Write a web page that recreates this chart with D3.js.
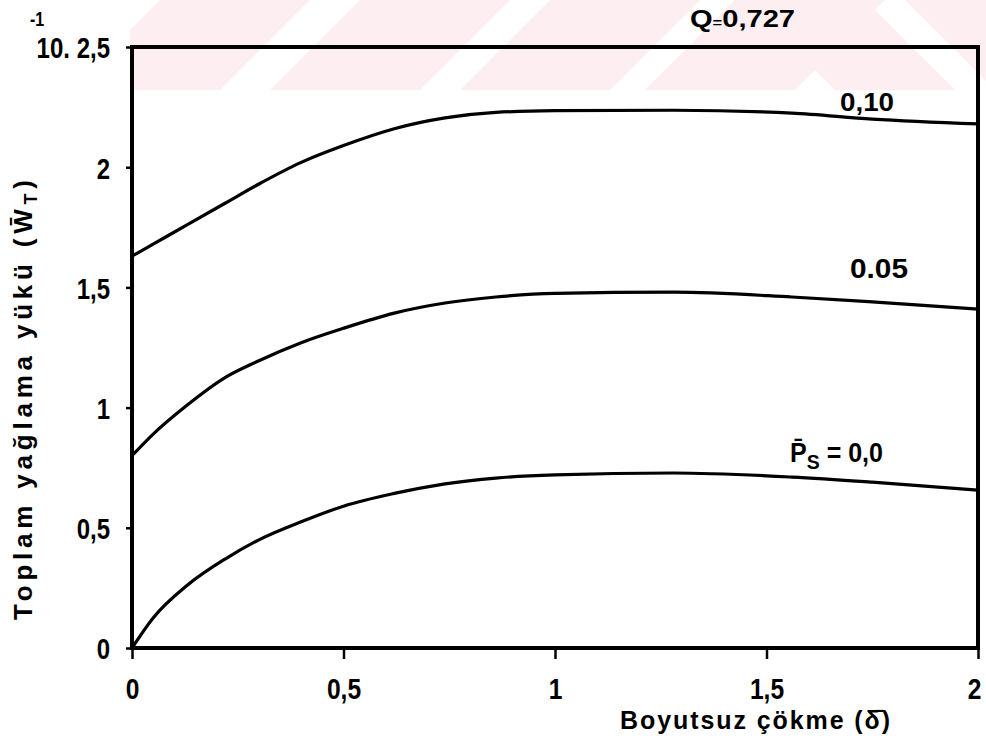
<!DOCTYPE html>
<html>
<head>
<meta charset="utf-8">
<script src="https://cdn.jsdelivr.net/npm/d3@7"></script>
<style>
  html, body { margin: 0; padding: 0; background: #fff; }
  svg { display: block; }
  text { font-family: "Liberation Sans", Arial, sans-serif; font-weight: bold; fill: #000; }
</style>
</head>
<body>
<svg id="chart" width="986" height="740"></svg>
<script>
// ---- data ----
const deltaValues = [0, 0.05, 0.13, 0.22, 0.30, 0.40, 0.50, 0.62, 0.74, 0.86, 1.0, 1.28, 1.56, 1.75, 2.0];
const seriesPs000 = [0, 0.125, 0.26, 0.37, 0.45, 0.525, 0.59, 0.643, 0.683, 0.707, 0.72, 0.728, 0.711, 0.69, 0.657];
const seriesPs005 = [0.80, 0.89, 1.01, 1.125, 1.195, 1.27, 1.33, 1.393, 1.435, 1.46, 1.475, 1.48, 1.46, 1.44, 1.41];
const seriesPs010 = [1.63, 1.68, 1.76, 1.85, 1.93, 2.02, 2.09, 2.16, 2.205, 2.228, 2.235, 2.237, 2.225, 2.20, 2.18];
const seriesNames = ["0,0", "0.05", "0,10"];
const xTickValues = [0, 0.5, 1, 1.5, 2];
const xTickLabels = ["0", "0,5", "1", "1,5", "2"];
const yTickValues = [0, 0.5, 1, 1.5, 2, 2.5];
const yTickLabels = ["0", "0,5", "1", "1,5", "2", "10. 2,5"];
const xTitle = "Boyutsuz çökme  (δ̄)";
const yTitleMain = "Toplam yağlama  yükü (W̄";
const yTitleSub = "T";
const qLabel = "0,727";

// ---- layout ----
const svg = d3.select("#chart");
const x = d3.scaleLinear().domain([0, 2]).range([132, 978]);
const y = d3.scaleLinear().domain([0, 2.5]).range([648, 47]);

function condense(sel, k) {
  sel.each(function () {
    const L = this.getComputedTextLength();
    d3.select(this).attr("textLength", L * k).attr("lengthAdjust", "spacingAndGlyphs");
  });
}

// watermark-like pink stripes in the top band
const wm = svg.append("g");
wm.append("clipPath").attr("id", "wmclip")
  .append("rect").attr("x", 130).attr("y", 0).attr("width", 856).attr("height", 90);
const wmg = wm.append("g").attr("clip-path", "url(#wmclip)");
[70, 270, 460, 645].forEach(s => {
  wmg.append("path")
    .attr("d", `M${s},90 L${s + 150},90 L${s + 240},0 L${s + 90},0 Z`)
    .attr("fill", "#fdeef1");
});
[745, 905].forEach(s => {
  wmg.append("path")
    .attr("d", `M${s},0 L${s + 120},0 L${s + 210},90 L${s + 90},90 Z`)
    .attr("fill", "#fdeef1");
});

// axes
const xAxis = d3.axisBottom(x).tickValues(xTickValues).tickSize(11)
  .tickFormat((d, i) => xTickLabels[i]);
const gx = svg.append("g").attr("transform", "translate(0,648)").call(xAxis);
gx.select(".domain").remove();
gx.selectAll(".tick line").attr("stroke", "#000").attr("stroke-width", 2.5);
gx.selectAll(".tick text").attr("dy", null).attr("y", 51)
  .attr("x", (d, i) => i === xTickValues.length - 1 ? -4 : 0)
  .style("font-size", "30px").style("font-family", "'Liberation Sans', Arial, sans-serif");
condense(gx.selectAll(".tick text"), 0.82);

const yAxis = d3.axisLeft(y).tickValues(yTickValues).tickSize(6)
  .tickFormat((d, i) => yTickLabels[i]);
const gy = svg.append("g").attr("transform", "translate(132,0)").call(yAxis);
gy.select(".domain").remove();
gy.selectAll(".tick line").attr("stroke", "#000").attr("stroke-width", 2.5);
gy.selectAll(".tick text").attr("x", -22).attr("dy", "0.36em")
  .style("font-size", "30px").style("font-family", "'Liberation Sans', Arial, sans-serif");
condense(gy.selectAll(".tick text"), 0.8);

// superscript -1 for the 10^-1 multiplier
const sup = svg.append("text").attr("x", 30).attr("y", 26)
  .style("font-size", "20px").text("-1");
condense(sup, 0.8);

// frame
svg.append("rect")
  .attr("x", x(0)).attr("y", y(2.5))
  .attr("width", x(2) - x(0)).attr("height", y(0) - y(2.5))
  .attr("fill", "none").attr("stroke", "#000").attr("stroke-width", 4);

// curves
const line = d3.line()
  .x((d, i) => x(deltaValues[i]))
  .y(d => y(d))
  .curve(d3.curveMonotoneX);
[seriesPs000, seriesPs005, seriesPs010].forEach(s => {
  svg.append("path").attr("d", line(s))
    .attr("fill", "none").attr("stroke", "#000").attr("stroke-width", 3.2)
    .attr("stroke-linejoin", "round");
});

// curve labels
svg.append("text").attr("x", 840).attr("y", 111).style("font-size", "26px")
  .attr("textLength", 54).attr("lengthAdjust", "spacingAndGlyphs").text(seriesNames[2]);
svg.append("text").attr("x", 850).attr("y", 278).style("font-size", "27px")
  .attr("textLength", 58).attr("lengthAdjust", "spacingAndGlyphs").text(seriesNames[1]);
const pl = svg.append("text").attr("x", 790).attr("y", 462).style("font-size", "27px");
pl.append("tspan").text("P̄");
pl.append("tspan").attr("dy", 7).style("font-size", "21px").text("S");
pl.append("tspan").attr("dy", -7).text(" = " + seriesNames[0]);
pl.attr("textLength", 93).attr("lengthAdjust", "spacingAndGlyphs");

// Q label
const ql = svg.append("text").attr("x", 690).attr("y", 27).style("font-size", "23px");
ql.append("tspan").text("Q");
ql.append("tspan").style("font-size", "13px").text("=");
ql.append("tspan").text(qLabel);
ql.attr("textLength", 105).attr("lengthAdjust", "spacingAndGlyphs");

// axis titles
svg.append("text").attr("x", 620).attr("y", 729)
  .attr("textLength", 270).attr("lengthAdjust", "spacing")
  .style("font-size", "25px")
  .text(xTitle);

const yt = svg.append("text")
  .attr("transform", "translate(32,620) rotate(-90)")
  .style("font-size", "26px");
yt.append("tspan").text(yTitleMain);
yt.append("tspan").attr("dy", 5).style("font-size", "18px").text(yTitleSub);
yt.append("tspan").attr("dy", -5).text(")");
yt.attr("textLength", 440).attr("lengthAdjust", "spacing");
</script>
</body>
</html>
